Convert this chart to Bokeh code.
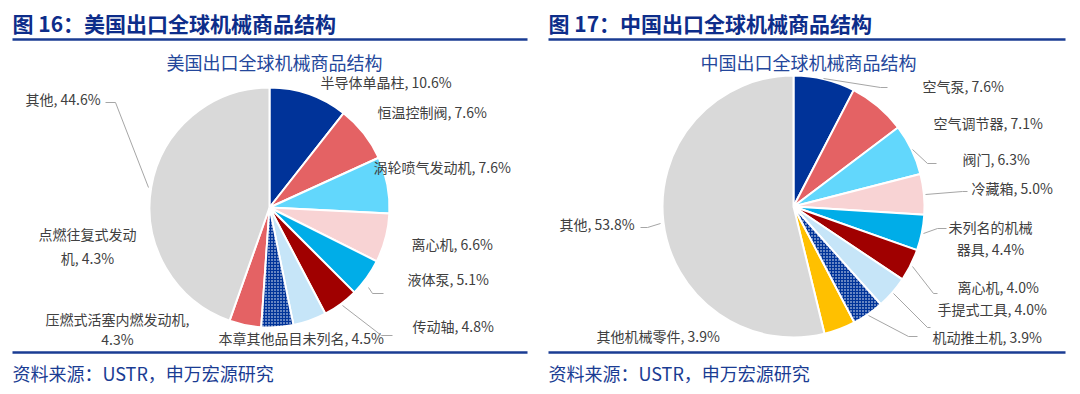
import math
from bokeh.plotting import figure
from bokeh.models import Range1d, ColumnDataSource
from bokeh.core.properties import value
from bokeh.embed import file_html
from bokeh.resources import INLINE

# ---------------- data ----------------
us_names = ["半导体单晶柱", "恒温控制阀", "涡轮喷气发动机", "离心机", "液体泵", "传动轴",
            "本章其他品目未列名", "压燃式活塞内燃发动机", "点燃往复式发动机", "其他"]
us_values = [10.6, 7.6, 7.6, 6.6, 5.1, 4.8, 4.5, 4.3, 4.3, 44.6]

cn_names = ["空气泵", "空气调节器", "阀门", "冷藏箱", "未列名的机械器具", "离心机",
            "手提式工具", "机动推土机", "其他机械零件", "其他"]
cn_values = [7.6, 7.1, 6.3, 5.0, 4.4, 4.0, 4.0, 3.9, 3.9, 53.8]

us_title = "图 16：美国出口全球机械商品结构"
cn_title = "图 17：中国出口全球机械商品结构"
us_sub = "美国出口全球机械商品结构"
cn_sub = "中国出口全球机械商品结构"
source_text = "资料来源：USTR，申万宏源研究"

# ---------------- styles ----------------
NAVY = "#003399"
us_colors = [NAVY, "#E46264", "#62D7FC", "#F8D3D4", "#00ADE8", "#A00000",
             "#C6E5F8", "HATCH", "#E46264", "#D9D9D9"]
cn_colors = [NAVY, "#E46264", "#62D7FC", "#F8D3D4", "#00ADE8", "#A00000",
             "#C6E5F8", "HATCH", "#FFC000", "#D9D9D9"]

FONT = value("Noto Sans CJK SC")
LABEL_COLOR = "#404040"
LEADER = "#A6A6A6"
TITLE_COLOR = "#0D2D8A"
LINE_COLOR = "#1A3C93"
SUB_COLOR = "#24479B"

W, H = 1072, 386


def Y(y):  # page pixel -> data y
    return H - y


p = figure(width=W, height=H, output_backend="svg", toolbar_location=None,
           x_range=Range1d(0, W), y_range=Range1d(0, H),
           x_axis_type=None, y_axis_type=None, min_border=0,
           min_border_left=0, min_border_right=0, min_border_top=0, min_border_bottom=0)
p.outline_line_color = None
p.grid.visible = False
p.background_fill_color = "white"


def draw_pie(cx, cy, r, vals, colors):
    total = sum(vals)
    cum = 0.0
    starts, ends, cols = [], [], []
    hs, he = [], []
    for v, c in zip(vals, colors):
        a0 = math.pi / 2 - 2 * math.pi * cum / total
        cum += v
        a1 = math.pi / 2 - 2 * math.pi * cum / total
        if c == "HATCH":
            hs.append(a0); he.append(a1)
        else:
            starts.append(a0); ends.append(a1); cols.append(c)
    src = ColumnDataSource(dict(x=[cx] * len(starts), y=[Y(cy)] * len(starts),
                                s=starts, e=ends, c=cols))
    p.wedge(x="x", y="y", radius=r, start_angle="s", end_angle="e", direction="clock",
            fill_color="c", line_color="white", line_width=2, source=src)
    hsrc = ColumnDataSource(dict(x=[cx] * len(hs), y=[Y(cy)] * len(hs), s=hs, e=he))
    p.wedge(x="x", y="y", radius=r, start_angle="s", end_angle="e", direction="clock",
            fill_color=NAVY, hatch_pattern="dot", hatch_color="white", hatch_scale=3,
            hatch_weight=1, line_color="white", line_width=2, source=hsrc)


draw_pie(269, 207, 120, us_values, us_colors)
draw_pie(793, 206, 131, cn_values, cn_colors)

# ---------------- labels ----------------
def fmt(name, v):
    return f"{name}, {v:.1f}%"

# label layout: (x, y, align, line_gap, split_after)
us_layout = [
    (320, 81, "left", 0, None),
    (377, 111, "left", 0, None),
    (373, 166, "left", 0, None),
    (411, 243, "left", 0, None),
    (407, 278, "left", 0, None),
    (412, 325, "left", 0, None),
    (218, 337, "left", 0, None),
    (117, 318, "center", 20, "comma"),
    (87, 233, "center", 24, 7),
    (25, 98, "left", 0, None),
]
cn_layout = [
    (922, 85, "left", 0, None),
    (933, 122, "left", 0, None),
    (962, 158, "left", 0, None),
    (971, 187, "left", 0, None),
    (990, 226, "center", 22, 6),
    (957, 286, "left", 0, None),
    (937, 308, "left", 0, None),
    (932, 336, "left", 0, None),
    (596, 335, "left", 0, None),
    (559, 223, "left", 0, None),
]


def draw_labels(names, vals, layout):
    xs, ys, ts, al = [], [], [], []
    for n, v, (x, y, a, gap, split) in zip(names, vals, layout):
        t = fmt(n, v)
        if split is None:
            lines = [t]
        elif split == "comma":
            lines = [n + ",", f"{v:.1f}%"]
        else:
            lines = [t[:split], t[split:]]
        for i, ln in enumerate(lines):
            xs.append(x); ys.append(Y(y + i * gap)); ts.append(ln); al.append(a)
    src = ColumnDataSource(dict(x=xs, y=ys, t=ts, a=al))
    p.text(x="x", y="y", text="t", text_align="a", text_baseline="middle",
           text_font=FONT, text_font_size="14px", text_color=LABEL_COLOR, source=src)


draw_labels(us_names, us_values, us_layout)
draw_labels(cn_names, cn_values, cn_layout)

# leader lines
leaders = [
    [(105, 102), (115, 102), (148, 187)],
    [(368, 287), (372, 293), (383, 293)],
    [(342, 305), (381, 335), (392, 335)],
    [(823, 78), (880, 87), (887, 87)],
    [(912, 149), (927, 163), (936, 163)],
    [(925, 194), (962, 191), (967, 191)],
    [(923, 233), (937, 228), (946, 228)],
    [(912, 266), (933, 293), (937, 293)],
    [(893, 293), (927, 327), (930, 327)],
    [(868, 315), (908, 336), (917, 336)],
    [(640, 227), (647, 227), (660, 223)],
]
p.multi_line(xs=[[pt[0] for pt in L] for L in leaders],
             ys=[[Y(pt[1]) for pt in L] for L in leaders],
             line_color=LEADER, line_width=1)

# titles, subtitles, rules, sources
p.text(x=[12, 548], y=[Y(22), Y(22)], text=[us_title, cn_title], text_align="left",
       text_baseline="middle", text_font=FONT, text_font_size="21px",
       text_font_style="bold", text_color=TITLE_COLOR)
p.text(x=[274, 808], y=[Y(61), Y(61)], text=[us_sub, cn_sub], text_align="center",
       text_baseline="middle", text_font=FONT, text_font_size="18px", text_color=SUB_COLOR)
p.segment(x0=[12, 548, 12, 548], y0=[Y(39), Y(39), Y(352), Y(352)],
          x1=[527, 1065, 527, 1065], y1=[Y(39), Y(39), Y(352), Y(352)],
          line_color=LINE_COLOR, line_width=2.5)
p.text(x=[12, 548], y=[Y(372), Y(372)], text=[source_text, source_text], text_align="left",
       text_baseline="middle", text_font=FONT, text_font_size="18px", text_color=LINE_COLOR)

open("out.html", "w").write(file_html(p, INLINE))
